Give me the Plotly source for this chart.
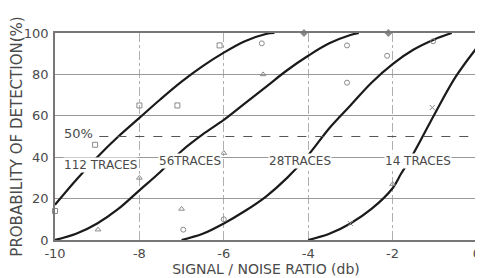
import plotly.graph_objects as go

# Curves
c112_x = [-10, -9.5, -9, -8.5, -8, -7.5, -7, -6.5, -6, -5.5, -5, -4.8]
c112_y = [17, 29, 40, 50, 59, 68, 76.5, 84, 90.5, 96, 99.5, 100]

c56_x = [-10, -9.5, -9, -8.5, -8, -7.5, -7, -6.5, -6, -5.5, -5, -4.5, -4, -3.5, -3, -2.8]
c56_y = [0, 3, 8, 15, 24, 33, 43, 51, 58, 66, 74, 82, 89, 95, 99, 100]

c28_x = [-7, -6.5, -6, -5.5, -5, -4.5, -4, -3.5, -3, -2.5, -2, -1.5, -1, -0.6]
c28_y = [0, 3, 8, 14, 21, 30, 41, 54, 65, 76, 85, 92, 97, 100]

c14_x = [-4, -3.5, -3, -2.5, -2, -1.8, -1.5, -1, -0.5, 0]
c14_y = [0, 3, 8, 15, 25, 32, 42, 61, 79, 93]

# Observed points by symbol
sq_x = [-10, -9.05, -8.0, -7.1, -6.1]
sq_y = [14, 46, 65, 65, 94]
ci_x = [-5.1, -6.96, -6.0, -3.08, -3.08, -2.13, -1.04]
ci_y = [95, 5, 10, 76, 94, 89, 96]
tr_x = [-5.07, -7.0, -8.98, -8.0, -6.0, -2.0]
tr_y = [80, 15, 5, 30, 42, 27]
xx_x = [-1.06, -3.0]
xx_y = [64, 8]
di_x = [-4.1, -2.1]
di_y = [100, 100]

curve_labels = ["112 TRACES", "56TRACES", "28TRACES", "14 TRACES"]
label_x = [-8.93, -6.8, -4.2, -1.4]
label_y = [36, 38, 38, 38]

x_ticks = [-10, -8, -6, -4, -2, 0]
x_tick_text = ["-10", "-8", "-6", "-4", "-2", "0"]
y_ticks = [0, 20, 40, 60, 80, 100]
y_tick_text = ["0", "20", "40", "60", "80", "100"]

FONT = "DejaVu Sans"
TXT = "#4a4a4a"

fig = go.Figure()

for cx, cy in [(c112_x, c112_y), (c56_x, c56_y), (c28_x, c28_y), (c14_x, c14_y)]:
    fig.add_trace(go.Scatter(x=cx, y=cy, mode="lines",
                             line=dict(color="#1a1a1a", width=2.2, shape="spline"),
                             hoverinfo="skip", showlegend=False))

for px, py, sym in [(sq_x, sq_y, "square-open"), (ci_x, ci_y, "circle-open"),
                    (tr_x, tr_y, "triangle-up-open"), (xx_x, xx_y, "x-thin-open"),
                    (di_x, di_y, "diamond")]:
    m = dict(size=5, symbol=sym, color="#8a8a8a", line=dict(color="#8a8a8a", width=1))
    if sym == "diamond":
        m = dict(size=6, symbol="diamond", color="#8a8a8a")
    fig.add_trace(go.Scatter(x=px, y=py, mode="markers", marker=m, cliponaxis=False,
                             hoverinfo="skip", showlegend=False))

# 50% dashed line
fig.add_shape(type="line", x0=-8.95, x1=0, y0=50, y1=50, xref="x", yref="y",
              line=dict(color="#555555", width=1.2, dash="dash"))
fig.add_annotation(x=-9.45, y=51.5, text="50%", showarrow=False,
                   font=dict(family=FONT, size=13, color=TXT))

for t, lx, ly in zip(curve_labels, label_x, label_y):
    fig.add_annotation(x=lx, y=ly, text=t, showarrow=False,
                       font=dict(family=FONT, size=12, color=TXT),
                       bgcolor="white", borderpad=0)

fig.update_xaxes(range=[-10, 0], tickvals=x_ticks, ticktext=x_tick_text,
                 showgrid=True, gridcolor="#b0b0b0", gridwidth=1, griddash="dashdot",
                 showline=True, linecolor="#777777", linewidth=1.5, mirror=True,
                 zeroline=False, ticks="", ticklen=0, automargin=False,
                 ticklabelstandoff=1,
                 tickfont=dict(family=FONT, size=13, color=TXT),
                 title=dict(text="SIGNAL / NOISE RATIO (db)", standoff=0,
                            font=dict(family=FONT, size=14, color=TXT)))
fig.update_yaxes(range=[0, 100], tickvals=y_ticks, ticktext=y_tick_text,
                 showgrid=True, gridcolor="#999999", gridwidth=1,
                 showline=True, linecolor="#777777", linewidth=1.5, mirror=True,
                 zeroline=False, ticks="", ticklen=0, automargin=False,
                 ticklabelstandoff=2,
                 tickfont=dict(family=FONT, size=13, color=TXT),
                 title=dict(text="PROBABILITY OF DETECTION(%)", standoff=1,
                            font=dict(family=FONT, size=15, color=TXT)))

# page body adds an 8px offset; figure sized to fill the window
fig.update_layout(width=475, height=270, margin=dict(l=47, r=6, t=25, b=38),
                  paper_bgcolor="white", plot_bgcolor="white", showlegend=False)

fig.write_html("out.html")
